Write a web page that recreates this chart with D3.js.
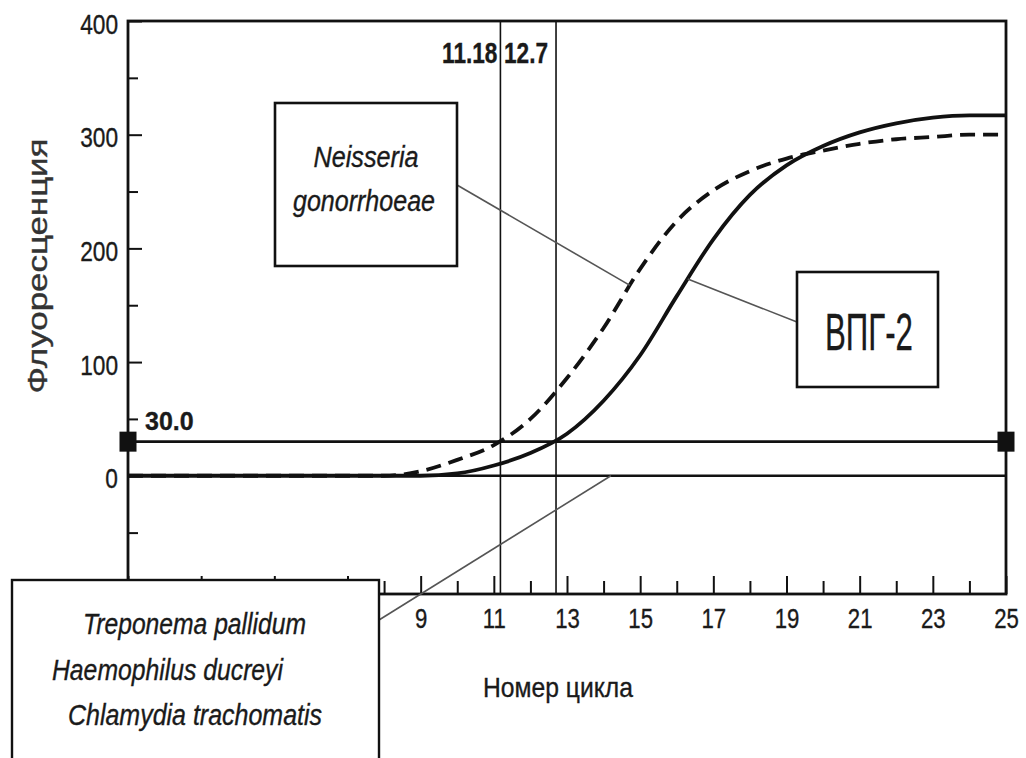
<!DOCTYPE html>
<html><head><meta charset="utf-8">
<script src="https://cdn.jsdelivr.net/npm/d3@7"></script>
<style>
body{margin:0;background:#fff}
svg{display:block}
text{font-family:"Liberation Sans",Arial,Helvetica,sans-serif;fill:#1a1a1a;stroke:#1a1a1a;stroke-width:0.35px}
</style>
</head><body>
<svg id="c" width="1026" height="758"></svg>
<script>
// ---- data ----
const cycles    = [1,2,3,4,5,6,7,8,9,10,11,12,13,14,15,16,17,18,19,20,21,22,23,24,25];
const vpg2      = [0,0,0,0,0,0,0,0,0,2,9,20,37,66,106,158,208,247,273,290,302,310,315,317,317];
const neisseria = [0,0,0,0,0,0,0,0,4,14,27,50,86,130,182,224,251,268,279,286,292,296,298,300,300];
const xMajorTicks = [1,3,5,7,9,11,13,15,17,19,21,23,25];
const xMinorTicks = [2,4,6,8,10,12,14,16,18,20,22,24];
const xHiddenLabels = [1,3,5,7];   // covered by the species box in the reference
const yMajorTicks = [-100,0,100,200,300,400];
const yMinorTicks = [-50,50,150,250,350];
const threshold = 30.0;
const thresholdLabel = "30.0";
const ctValues = [11.18, 12.7];
const ctLabels = ["11.18", "12.7"];
const yTitle = "Флуоресценция";
const xTitle = "Номер цикла";
const neisseriaName = ["Neisseria", "gonorrhoeae"];
const vpgName = "ВПГ-2";
const negativeNames = ["Treponema pallidum", "Haemophilus ducreyi", "Chlamydia trachomatis"];

// ---- scales ----
const x = d3.scaleLinear().domain([1,25]).range([128,1006]);
const y = d3.scaleLinear().domain([-104,400]).range([594,21]);
const svg = d3.select("#c");
const ink = "#111";

function condense(sel, f){
  sel.each(function(){
    const L = this.getComputedTextLength();
    if (L > 0) d3.select(this).attr("textLength", L*f).attr("lengthAdjust","spacingAndGlyphs");
  });
}
function fixLen(sel, L){ sel.attr("textLength", L).attr("lengthAdjust","spacingAndGlyphs"); }
function interp(arr, c){
  const i = Math.floor(c) - 1, t = c - Math.floor(c);
  return arr[i] + (arr[i+1]-arr[i])*t;
}

// ---- axis titles ----
fixLen(svg.append("text").attr("transform","translate(47,266) rotate(-90)")
  .attr("text-anchor","middle").style("font-size","27px").style("fill","#333").style("stroke","#333").text(yTitle), 255);
fixLen(svg.append("text").attr("x",558).attr("y",697)
  .attr("text-anchor","middle").style("font-size","28px").text(xTitle), 150);

// ---- x axis ----
const gx = svg.append("g").attr("transform",`translate(0,${y(-104)})`)
  .call(d3.axisBottom(x).tickValues(xMajorTicks).tickSize(-18).tickPadding(15)
    .tickFormat(d => xHiddenLabels.includes(d) ? "" : d3.format("d")(d)));
gx.select(".domain").remove();
gx.selectAll("line").attr("stroke",ink).attr("stroke-width",2);
gx.selectAll("text").style("font-size","27px");
condense(gx.selectAll("text"), 0.82);
const gxm = svg.append("g").attr("transform",`translate(0,${y(-104)})`)
  .call(d3.axisBottom(x).tickValues(xMinorTicks).tickSize(-13).tickFormat(""));
gxm.select(".domain").remove();
gxm.selectAll("line").attr("stroke",ink).attr("stroke-width",2);

// ---- y axis ----
const gy = svg.append("g").attr("transform",`translate(${x(1)},0)`)
  .call(d3.axisLeft(y).tickValues(yMajorTicks).tickSize(-14).tickPadding(10).tickFormat(d3.format("d")));
gy.select(".domain").remove();
gy.selectAll("line").attr("stroke",ink).attr("stroke-width",2);
gy.selectAll("text").style("font-size","27px").attr("dy","0.45em");
condense(gy.selectAll("text"), 0.84);
const gym = svg.append("g").attr("transform",`translate(${x(1)},0)`)
  .call(d3.axisLeft(y).tickValues(yMinorTicks).tickSize(-10).tickFormat(""));
gym.select(".domain").remove();
gym.selectAll("line").attr("stroke",ink).attr("stroke-width",2);

// ---- frame ----
svg.append("rect").attr("x",x(1)).attr("y",y(400))
  .attr("width",x(25)-x(1)).attr("height",y(-104)-y(400))
  .attr("fill","none").attr("stroke",ink).attr("stroke-width",2.8);

// ---- baseline and threshold ----
svg.append("line").attr("x1",x(1)).attr("x2",x(25)).attr("y1",y(0)).attr("y2",y(0))
  .attr("stroke",ink).attr("stroke-width",2.4);
svg.append("line").attr("x1",x(1)).attr("x2",x(25)).attr("y1",y(threshold)).attr("y2",y(threshold))
  .attr("stroke",ink).attr("stroke-width",2.6);
svg.selectAll("rect.marker").data([1,25]).enter().append("rect").attr("class","marker")
  .attr("x",d=>x(d)-8.5).attr("y",y(threshold)-10).attr("width",17).attr("height",20).attr("fill",ink);
svg.append("text").attr("x",x(1)+17).attr("y",430).style("font-size","25px").style("font-weight","bold")
  .text(thresholdLabel);

// ---- Ct vertical lines ----
svg.selectAll("line.ct").data(ctValues).enter().append("line").attr("class","ct")
  .attr("x1",d=>x(d)).attr("x2",d=>x(d)).attr("y1",y(400)).attr("y2",y(-104))
  .attr("stroke",ink).attr("stroke-width",1.6);
const ctOffsets = [3, 8];
ctValues.forEach((v,i)=>{
  svg.append("text").attr("transform",`translate(${x(v)-ctOffsets[i]},63) scale(0.78,1)`)
    .attr("text-anchor","end")
    .style("font-size","29px").style("font-weight","bold").text(ctLabels[i]);
});

// ---- curves ----
const line = d3.line().x((d,i)=>x(cycles[i])).y(d=>y(d)).curve(d3.curveMonotoneX);
svg.append("path").datum(neisseria).attr("d",line).attr("fill","none")
  .attr("stroke",ink).attr("stroke-width",3.8).attr("stroke-dasharray","15,8");
svg.append("path").datum(vpg2).attr("d",line).attr("fill","none")
  .attr("stroke",ink).attr("stroke-width",3.8);

// ---- Neisseria annotation ----
const lead = "#555";
svg.append("line").attr("x1",457).attr("y1",185).attr("x2",x(14.72)).attr("y2",y(interp(neisseria,14.72)))
  .attr("stroke",lead).attr("stroke-width",1.6);
svg.append("rect").attr("x",275).attr("y",103).attr("width",182).attr("height",163)
  .attr("fill","#fff").attr("stroke",ink).attr("stroke-width",2.6);
fixLen(svg.append("text").attr("x",366).attr("y",167).attr("text-anchor","middle")
  .style("font-size","29px").style("font-style","italic").text(neisseriaName[0]), 105);
fixLen(svg.append("text").attr("x",364).attr("y",211).attr("text-anchor","middle")
  .style("font-size","29px").style("font-style","italic").text(neisseriaName[1]), 142);

// ---- ВПГ-2 annotation ----
svg.append("line").attr("x1",797).attr("y1",322).attr("x2",x(16.3)).attr("y2",y(interp(vpg2,16.3)))
  .attr("stroke",lead).attr("stroke-width",1.6);
svg.append("rect").attr("x",797).attr("y",272).attr("width",141).attr("height",115)
  .attr("fill","#fff").attr("stroke",ink).attr("stroke-width",2.6);
fixLen(svg.append("text").attr("x",869).attr("y",350).attr("text-anchor","middle")
  .style("font-size","51px").text(vpgName), 88);

// ---- negative species box ----
svg.append("line").attr("x1",379).attr("y1",620).attr("x2",x(14.2)).attr("y2",y(0))
  .attr("stroke",lead).attr("stroke-width",1.6);
svg.append("rect").attr("x",12).attr("y",580).attr("width",367).attr("height",200)
  .attr("fill","#fff").attr("stroke",ink).attr("stroke-width",2.4);
const negX = [83, 52, 68], negY = [634, 680, 725], negL = [223, 231, 254];
negativeNames.forEach((s,i)=>{
  fixLen(svg.append("text").attr("x",negX[i]).attr("y",negY[i])
    .style("font-size","29px").style("font-style","italic").text(s), negL[i]);
});
</script>
</body></html>
